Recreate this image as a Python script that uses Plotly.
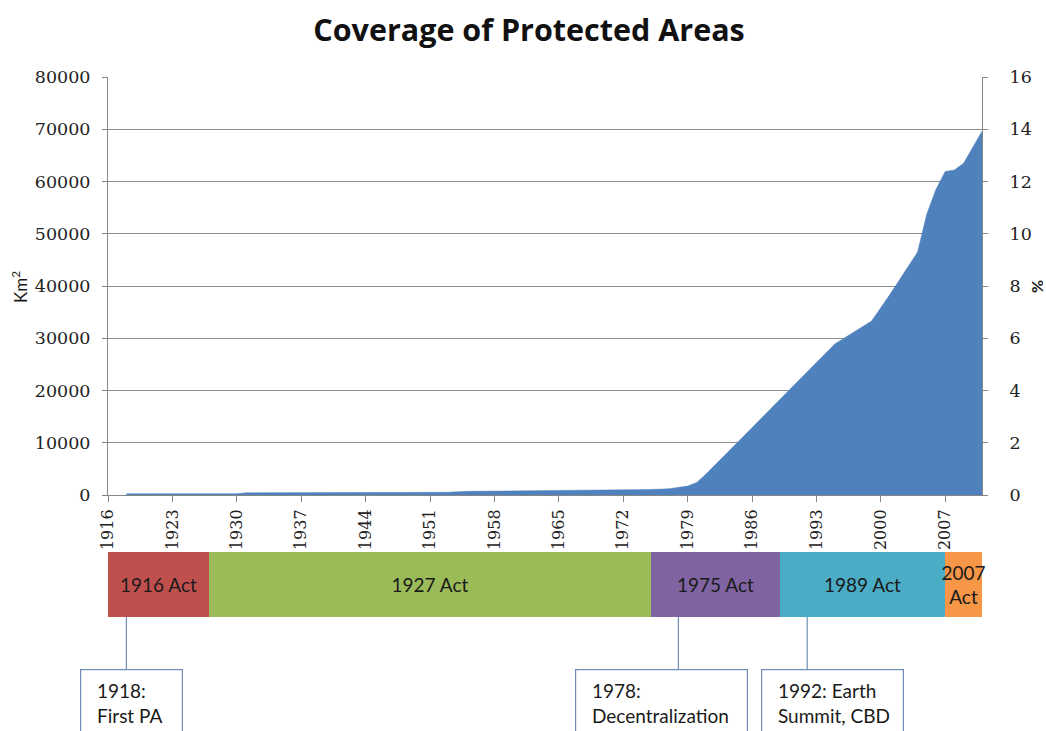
import plotly.graph_objects as go

# Cumulative protected area coverage (km²) by year
years = [1918, 1930, 1931, 1940, 1950, 1953, 1955, 1960, 1965, 1970, 1975, 1977,
         1978, 1979, 1980, 1981, 1985, 1990, 1993, 1995, 1996, 1999, 2001, 2004,
         2005, 2006, 2007, 2008, 2009, 2011]
area_km2 = [230, 250, 420, 450, 500, 520, 700, 780, 880, 950, 1050, 1200,
            1400, 1700, 2400, 4000, 11100, 20000, 25400, 28900, 30000, 33300, 38400, 46500,
            53800, 58500, 61900, 62200, 63500, 69600]

# Axis ticks
x_ticks = [1916, 1923, 1930, 1937, 1944, 1951, 1958, 1965, 1972, 1979, 1986, 1993, 2000, 2007]
km2_ticks = [0, 10000, 20000, 30000, 40000, 50000, 60000, 70000, 80000]
pct_ticks = [0, 2, 4, 6, 8, 10, 12, 14, 16]

# Legislative periods
act_names = ["1916 Act", "1927 Act", "1975 Act", "1989 Act", "2007<br>Act"]
act_start = [1916, 1927, 1975, 1989, 2007]
act_end = [1927, 1975, 1989, 2007, 2011]
act_colors = ["#C0504D", "#9BBB59", "#8064A2", "#4BACC6", "#F79646"]

# Milestones
event_years = [1918, 1978, 1992]
event_labels = ["1918:<br>First PA", "1978:<br>Decentralization", "1992: Earth<br>Summit, CBD"]

X_RANGE = [1916, 2011]
W, H = 1046, 731
M_L, M_R, M_T, M_B = 108, 64, 77, 0
PH = H - M_T - M_B  # plotting height in px

def py(px_from_top):
    """paper y fraction for a pixel row (measured from top of window)"""
    return (H - M_B - px_from_top) / PH

def px(px_from_left):
    """paper x fraction for a pixel column"""
    return (px_from_left - M_L) / (W - M_L - M_R)

GRID = "#8c8c8c"
AXIS = "#868686"
YTICKFONT = dict(family="DejaVu Serif", size=17.5, color="#222222")
XTICKFONT = dict(family="DejaVu Serif", size=16, color="#222222")
SANS = "Lato"

fig = go.Figure()

fig.add_trace(go.Scatter(
    x=years, y=area_km2, mode="lines", fill="tozeroy",
    line=dict(color="#4F81BD", width=0.5), fillcolor="#4F81BD",
    hoverinfo="x+y", showlegend=False,
))

# anchor traces so the secondary and grid axes are drawn
fig.add_trace(go.Scatter(x=[X_RANGE[0]], y=[0], yaxis="y2", mode="markers",
                         marker=dict(opacity=0), showlegend=False, hoverinfo="skip"))
fig.add_trace(go.Scatter(x=[X_RANGE[0]], y=[0], yaxis="y4", mode="markers",
                         marker=dict(opacity=0), showlegend=False, hoverinfo="skip"))

# Act timeline bars
fig.add_trace(go.Bar(
    y=[0.5] * len(act_names),
    x=[e - s for s, e in zip(act_start, act_end)],
    base=act_start,
    orientation="h", width=1,
    marker=dict(color=act_colors, line=dict(width=0)),
    text=act_names, textposition="inside", insidetextanchor="middle",
    textangle=0, constraintext="none", cliponaxis=False,
    textfont=dict(family=SANS, size=19, color="#1a1a1a"),
    xaxis="x2", yaxis="y3", showlegend=False, hoverinfo="skip",
))

# Connectors from the timeline to milestone boxes
BOX_TOP = -0.8
for yr in event_years:
    fig.add_trace(go.Scatter(
        x=[yr, yr], y=[0, BOX_TOP], mode="lines",
        line=dict(color="#6D8DB8", width=1.2),
        xaxis="x2", yaxis="y3", showlegend=False, hoverinfo="skip",
    ))

annotations = []
box_geom = [(-46, 101), (-103, 171), (-46, 141)]
for yr, label, (off, bw) in zip(event_years, event_labels, box_geom):
    annotations.append(dict(
        x=yr, y=BOX_TOP, xref="x2", yref="y3", xanchor="left", yanchor="top",
        xshift=off, text=" ", showarrow=False, width=bw, height=90,
        borderpad=0, bordercolor="#6D8DB8", borderwidth=1.2, bgcolor="white",
    ))
    annotations.append(dict(
        x=yr, y=BOX_TOP, xref="x2", yref="y3", xanchor="left", yanchor="top",
        xshift=off + 15, yshift=-8, text=label, showarrow=False, align="left",
        font=dict(family=SANS, size=19, color="#1a1a1a"),
    ))

# Axis titles
annotations.append(dict(
    x=px(19), y=py(287), xref="paper", yref="paper", xanchor="center", yanchor="middle",
    text="Km<sup>2</sup>", textangle=-90, showarrow=False,
    font=dict(family=SANS, size=17, color="#1a1a1a"),
))
annotations.append(dict(
    x=px(1036), y=py(287), xref="paper", yref="paper", xanchor="center", yanchor="middle",
    text="<b>%</b>", textangle=-90, showarrow=False, borderpad=0,
    font=dict(family=SANS, size=16, color="#1a1a1a"),
))

main_domain = [py(495), 1]

fig.update_layout(
    width=W, height=H,
    margin=dict(l=M_L, r=M_R, t=M_T, b=M_B, autoexpand=False),
    paper_bgcolor="white", plot_bgcolor="white",
    title=dict(
        text="<b>Coverage of Protected Areas</b>",
        x=529 / W, xref="container", xanchor="center",
        y=1 - 30 / H, yref="container", yanchor="middle",
        font=dict(family="Open Sans", size=30.5, color="#111111"),
    ),
    xaxis=dict(
        domain=[0, 1], anchor="y", range=X_RANGE,
        tickmode="array", tickvals=x_ticks, ticktext=[str(t) for t in x_ticks],
        tickangle=-90, tickfont=XTICKFONT, ticklabelstandoff=1,
        showline=True, linecolor=AXIS, linewidth=1,
        ticks="outside", ticklen=6, tickcolor=AXIS,
        showgrid=False, zeroline=False,
    ),
    yaxis=dict(
        domain=main_domain, anchor="x", range=[0, 80000],
        tickmode="array", tickvals=km2_ticks, ticktext=[str(t) for t in km2_ticks],
        tickfont=YTICKFONT, ticklabelstandoff=8,
        showline=True, linecolor=AXIS, linewidth=1,
        ticks="outside", ticklen=5, tickcolor=AXIS,
        showgrid=False, zeroline=False,
    ),
    yaxis2=dict(
        overlaying="y", side="right", anchor="x", range=[0, 16],
        tickmode="array", tickvals=pct_ticks, ticktext=[str(t) for t in pct_ticks],
        tickfont=YTICKFONT, ticklabelstandoff=18,
        showline=True, linecolor=AXIS, linewidth=1,
        ticks="outside", ticklen=5, tickcolor=AXIS,
        showgrid=False, zeroline=False,
    ),
    yaxis4=dict(
        overlaying="y", anchor="x", range=[0, 80000],
        tickmode="array", tickvals=km2_ticks[1:-1],
        showticklabels=False, ticks="", showline=False,
        showgrid=True, gridcolor=GRID, gridwidth=1, zeroline=False,
    ),
    xaxis2=dict(
        domain=[0, 1], anchor="y3", range=X_RANGE, visible=False,
    ),
    yaxis3=dict(
        domain=[0, py(552)], anchor="x2", range=[-1.754, 1], visible=False,
    ),
    bargap=0,
    annotations=annotations,
)

fig.write_html("out.html")
